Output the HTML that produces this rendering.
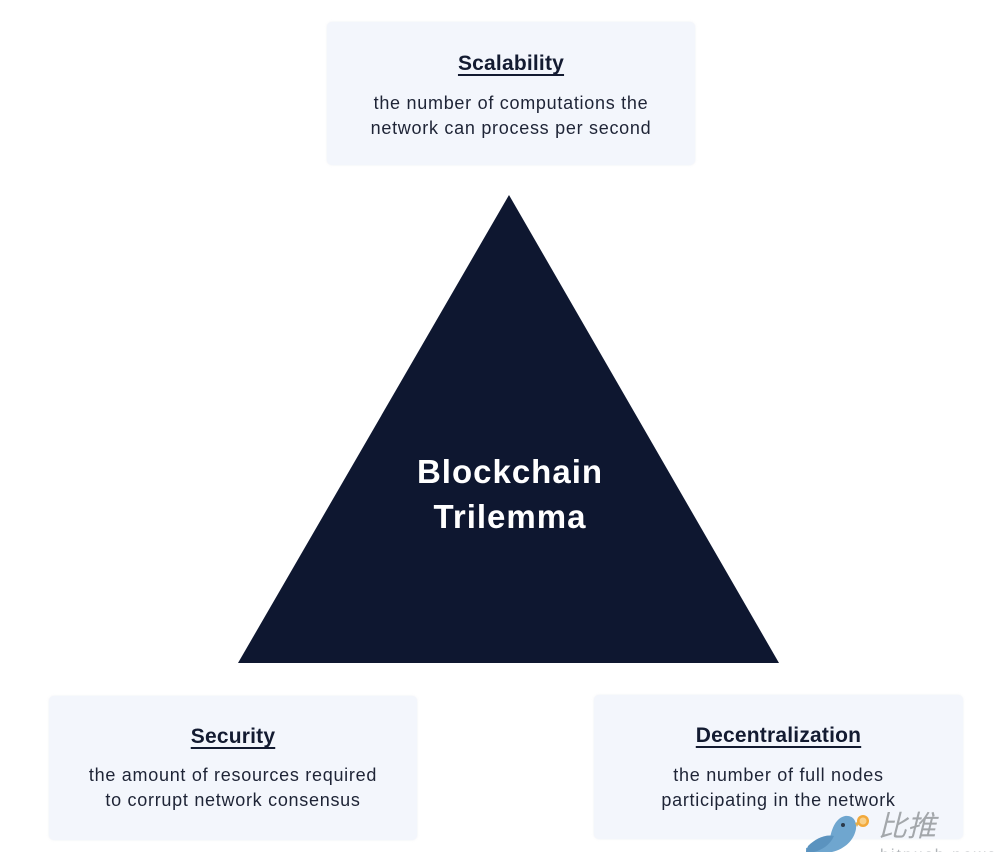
<!DOCTYPE html>
<html>
<head>
<meta charset="utf-8">
<style>
  html, body { margin:0; padding:0; }
  body { width:1005px; height:852px; background:#ffffff; position:relative; overflow:hidden;
         font-family:"Liberation Sans", "Noto Sans CJK SC", sans-serif; }
  .box { position:absolute; background:#f3f6fc; border-radius:5px; box-shadow:0 0 2px rgba(200,205,220,0.35); }
  .title { position:absolute; left:0; right:0; text-align:center; font-weight:bold; font-size:21px;
           line-height:25px; color:#131b31; text-decoration:underline; text-decoration-thickness:2px;
           text-underline-offset:4px; letter-spacing:0.2px; }
  .desc { position:absolute; left:0; right:0; text-align:center; font-size:18px; line-height:25px;
          color:#1e2436; letter-spacing:0.72px; }
  .center { position:absolute; left:300px; width:420px; text-align:center; color:#ffffff;
            font-weight:bold; font-size:33px; line-height:45px; letter-spacing:1px; }
</style>
</head>
<body>
  <!-- Scalability box -->
  <div class="box" style="left:327px; top:22px; width:368px; height:143px;">
    <div class="title" style="top:29px;">Scalability</div>
    <div class="desc" style="top:69px;">the number of computations the<br>network can process per second</div>
  </div>

  <!-- Triangle -->
  <svg style="position:absolute; left:0; top:0;" width="1005" height="852">
    <polygon points="509,195 238,663 779,663" fill="#0e1730"/>
  </svg>

  <div class="center" style="top:449px;">Blockchain<br>Trilemma</div>

  <!-- Security box -->
  <div class="box" style="left:49px; top:696px; width:368px; height:144px;">
    <div class="title" style="top:28px;">Security</div>
    <div class="desc" style="top:67px;">the amount of resources required<br>to corrupt network consensus</div>
  </div>

  <!-- Decentralization box -->
  <div class="box" style="left:594px; top:695px; width:369px; height:144px;">
    <div class="title" style="top:28px;">Decentralization</div>
    <div class="desc" style="top:68px;">the number of full nodes<br>participating in the network</div>
  </div>

  <!-- Watermark -->
  <svg style="position:absolute; left:0; top:0;" width="1005" height="852">
    <path d="M806,848 C814,846 824,844 830,838 C832,828 836,818 845,816 C853,815 857,821 856,829 C854,840 845,849 832,852 L806,852 Z" fill="#6fa6cf"/>
    <path d="M808,846 C816,838 826,834 834,836 C830,845 822,850 814,852 L806,852 Z" fill="#5b93bf"/>
    <circle cx="843" cy="825" r="2" fill="#2b3a4a"/>
    <path d="M855,823 L860,821 L857,827 Z" fill="#e0b050"/>
    <circle cx="863" cy="821" r="6" fill="#f2a93b"/>
    <circle cx="863" cy="821" r="3.5" fill="#f8d08a"/>
    <text x="878" y="836" font-family="'Noto Sans CJK SC', sans-serif" font-size="29" font-style="italic" fill="#a3a7ab">比推</text>
    <text x="880" y="860" font-family="'Liberation Sans', sans-serif" font-size="16" fill="#b0b4b8" letter-spacing="2">bitpush.news</text>
  </svg>
</body>
</html>
